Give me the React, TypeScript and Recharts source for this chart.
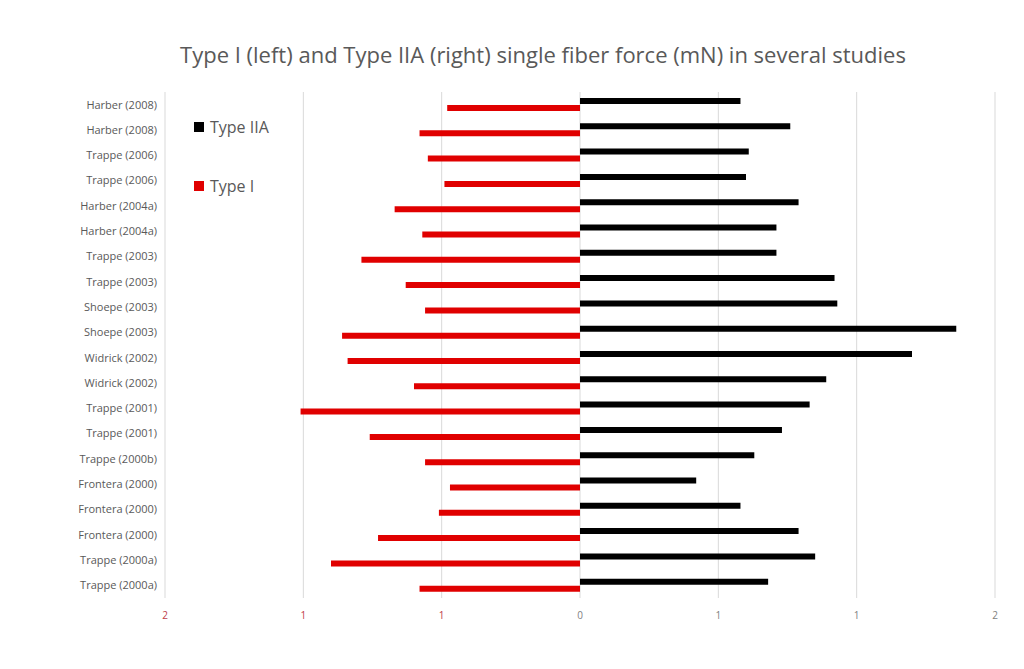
import React from 'react';
import { BarChart, Bar, XAxis, YAxis, CartesianGrid, Legend } from 'recharts';

// studies, listed top to bottom as drawn
const studies = [
    'Harber (2008)', 'Harber (2008)', 'Trappe (2006)', 'Trappe (2006)',
    'Harber (2004a)', 'Harber (2004a)', 'Trappe (2003)', 'Trappe (2003)',
    'Shoepe (2003)', 'Shoepe (2003)', 'Widrick (2002)', 'Widrick (2002)',
    'Trappe (2001)', 'Trappe (2001)', 'Trappe (2000b)', 'Frontera (2000)',
    'Frontera (2000)', 'Frontera (2000)', 'Trappe (2000a)', 'Trappe (2000a)',
];

// Type IIA force (mN), drawn to the right
const typeIIA = [
    0.58, 0.76, 0.61, 0.60, 0.79, 0.71, 0.71, 0.92, 0.93, 1.36,
    1.20, 0.89, 0.83, 0.73, 0.63, 0.42, 0.58, 0.79, 0.85, 0.68,
];

// Type I force (mN), drawn to the left
const typeI = [
    0.48, 0.58, 0.55, 0.49, 0.67, 0.57, 0.79, 0.63, 0.56, 0.86,
    0.84, 0.60, 1.01, 0.76, 0.56, 0.47, 0.51, 0.73, 0.90, 0.58,
];

const xTicks = [-1.5, -1, -0.5, 0, 0.5, 1, 1.5];

const data = studies.map((study, i) => ({
    study,
    typeIIA: typeIIA[i],
    typeI: -typeI[i],
}));

const FONT = 'Open Sans, sans-serif';

const XTick = (props: any) => {
    const { x, y, payload } = props;
    const v = payload.value as number;
    return (
        <text x={x} y={y} dy={13} textAnchor="middle" fontSize={10} fontFamily={FONT}
            fill={v < 0 ? '#c0404a' : '#7f7f7f'}>
            {Math.round(Math.abs(v))}
        </text>
    );
};

const LegendBox = () => (
    <div style={{ fontFamily: FONT, fontSize: 16, color: '#595959' }}>
        <div style={{ display: 'flex', alignItems: 'center', height: 22 }}>
            <span style={{ width: 10, height: 10, background: '#000', marginRight: 6 }} />
            Type IIA
        </div>
        <div style={{ display: 'flex', alignItems: 'center', height: 22, marginTop: 37 }}>
            <span style={{ width: 10, height: 10, background: '#e00000', marginRight: 6 }} />
            Type I
        </div>
    </div>
);

export default function App() {
    return (
        <div style={{ position: 'relative', width: 1010, height: 661, background: '#fff' }}>
            <div style={{
                position: 'absolute', top: 31, left: 0, width: 1070, textAlign: 'center',
                fontFamily: FONT, fontSize: 22, color: '#595959', whiteSpace: 'nowrap',
            }}>
                Type I (left) and Type IIA (right) single fiber force (mN) in several studies
            </div>
            <BarChart
                width={1010}
                height={661}
                data={data}
                layout="vertical"
                margin={{ top: 84, right: 23, bottom: 41, left: 10 }}
                barSize={6}
                barGap={1}
            >
                <CartesianGrid horizontal={false} stroke="#d9d9d9" />
                <XAxis
                    type="number"
                    domain={[-1.5, 1.5]}
                    ticks={xTicks}
                    axisLine={false}
                    tickLine={false}
                    tick={<XTick />}
                    height={30}
                    interval={0}
                />
                <YAxis
                    type="category"
                    dataKey="study"
                    width={147}
                    axisLine={false}
                    tickLine={false}
                    interval={0}
                    tick={{ fontSize: 11, fill: '#595959', fontFamily: FONT }}
                />
                <Legend
                    content={<LegendBox />}
                    layout="horizontal"
                    verticalAlign="middle"
                    align="center"
                    wrapperStyle={{ top: 108, left: 186, width: 120 }}
                />
                <Bar dataKey="typeIIA" name="Type IIA" fill="#000000" isAnimationActive={false} />
                <Bar dataKey="typeI" name="Type I" fill="#e00000" isAnimationActive={false} />
            </BarChart>
        </div>
    );
}
